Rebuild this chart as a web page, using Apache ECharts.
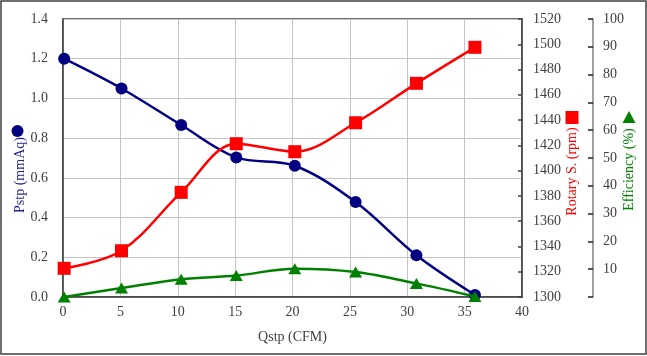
<!DOCTYPE html>
<html>
<head>
<meta charset="utf-8">
<script src="https://cdn.jsdelivr.net/npm/echarts@6/dist/echarts.min.js"></script>
<style>
html,body{margin:0;padding:0;background:#fff;}
#c{width:647px;height:356px;}
</style>
</head>
<body>
<div id="c"></div>
<script>
// Data
var qstp = [0.1, 5.1, 10.3, 15.1, 20.2, 25.5, 30.8, 35.9];
var pstp = [1.20, 1.05, 0.866, 0.703, 0.661, 0.478, 0.21, 0.01];
var rotary = [1322.7, 1336.6, 1382.8, 1421.3, 1415, 1437.9, 1469.1, 1497.6];
var efficiency = [0, 3.2, 6.4, 7.7, 10.2, 9.0, 4.9, 0.2];

var xTitle = 'Qstp (CFM)';
var pstpTitle = 'Pstp (mmAq)';
var rotaryTitle = 'Rotary S. (rpm)';
var effTitle = 'Efficiency (%)';

function pairs(xs, ys) { return xs.map(function (x, i) { return [x, ys[i]]; }); }

var FONT = 'Liberation Serif';
var TICK = '#404040';
var BLUE = '#000080', RED = '#ff0000', GREEN = '#008000';

var chart = echarts.init(document.getElementById('c'), null, {renderer: 'canvas'});
chart.setOption({
  animation: false,
  backgroundColor: '#fff',
  textStyle: {fontFamily: FONT},
  grid: {left: 63, right: 125, top: 19, bottom: 59, show: true, borderColor: '#404040', borderWidth: 1.5, backgroundColor: 'transparent'},
  xAxis: {
    type: 'value', min: 0, max: 40, interval: 5,
    name: xTitle, nameLocation: 'middle', nameGap: 33,
    nameTextStyle: {fontFamily: FONT, fontSize: 14, color: TICK},
    axisLine: {show: true, lineStyle: {color: '#404040', width: 1.5}},
    axisTick: {show: false},
    axisLabel: {fontFamily: FONT, fontSize: 14, color: TICK, margin: 8},
    splitLine: {show: true, lineStyle: {color: '#c4c4c4', width: 1}}
  },
  yAxis: [
    {
      type: 'value', min: 0, max: 1.4, interval: 0.2, position: 'left',
      axisLine: {show: true, lineStyle: {color: '#404040', width: 1.5}},
      axisTick: {show: false},
      axisLabel: {fontFamily: FONT, fontSize: 14, color: TICK, margin: 15, formatter: function (v) { return v.toFixed(1); }},
      splitLine: {show: true, lineStyle: {color: '#c4c4c4', width: 1}}
    },
    {
      type: 'value', min: 1300, max: 1520, interval: 20, position: 'right',
      axisLine: {show: true, lineStyle: {color: '#404040', width: 1.5}},
      axisTick: {show: true, inside: true, length: 4, lineStyle: {color: '#404040', width: 1.5}},
      axisLabel: {fontFamily: FONT, fontSize: 14, color: TICK, margin: 11, formatter: function (v) { return String(v); }},
      splitLine: {show: false}
    },
    {
      type: 'value', min: 0, max: 100, interval: 10, position: 'right', offset: 71,
      axisLine: {show: true, lineStyle: {color: '#808080', width: 1.5}},
      axisTick: {show: true, inside: true, length: 5, lineStyle: {color: '#222', width: 1.5}},
      axisLabel: {fontFamily: FONT, fontSize: 14, color: TICK, margin: 10, formatter: function (v) { return v === 0 ? '' : String(v); }},
      splitLine: {show: false}
    }
  ],
  series: [
    {
      type: 'line', name: pstpTitle, yAxisIndex: 0, data: pairs(qstp, pstp),
      smooth: 0.35, symbol: 'circle', symbolSize: 12,
      lineStyle: {color: BLUE, width: 2.5}, itemStyle: {color: BLUE}, z: 2
    },
    {
      type: 'line', name: rotaryTitle, yAxisIndex: 1, data: pairs(qstp, rotary),
      smooth: 0.35, symbol: 'rect', symbolSize: 13,
      lineStyle: {color: RED, width: 2.5}, itemStyle: {color: RED}, z: 3
    },
    {
      type: 'line', name: effTitle, yAxisIndex: 2, data: pairs(qstp, efficiency),
      smooth: 0.35, symbol: 'triangle', symbolSize: [13, 11],
      lineStyle: {color: GREEN, width: 2.5}, itemStyle: {color: GREEN}, z: 4
    }
  ],
  graphic: [
    {type: 'rect', shape: {x: 1, y: 1, width: 645, height: 353}, style: {fill: 'none', stroke: '#404040', lineWidth: 1.5}, silent: true},
    {type: 'text', x: 20, y: 175, rotation: Math.PI / 2,
     style: {text: pstpTitle, fontFamily: FONT, fontSize: 14, fill: '#1f1f99', textAlign: 'center', textVerticalAlign: 'middle'}},
    {type: 'circle', shape: {cx: 17.5, cy: 131, r: 6}, style: {fill: BLUE}},
    {type: 'text', x: 572, y: 171.5, rotation: Math.PI / 2,
     style: {text: rotaryTitle, fontFamily: FONT, fontSize: 14, fill: RED, textAlign: 'center', textVerticalAlign: 'middle'}},
    {type: 'rect', shape: {x: 565.5, y: 111, width: 13, height: 13}, style: {fill: RED}},
    {type: 'text', x: 629, y: 169.5, rotation: Math.PI / 2,
     style: {text: effTitle, fontFamily: FONT, fontSize: 14, fill: GREEN, textAlign: 'center', textVerticalAlign: 'middle'}},
    {type: 'polygon', shape: {points: [[629, 111], [635.5, 123], [622.5, 123]]}, style: {fill: GREEN}}
  ]
});
</script>
</body>
</html>
